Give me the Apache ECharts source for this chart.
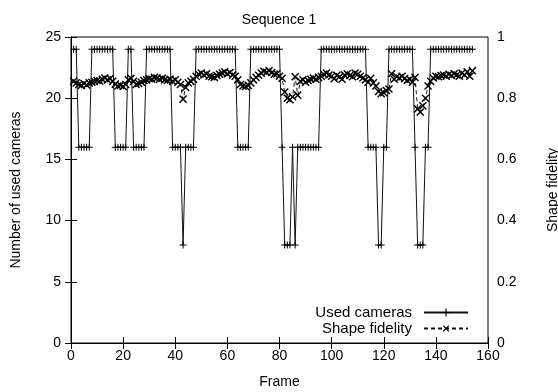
<!DOCTYPE html>
<html>
<head>
<meta charset="utf-8">
<script src="https://cdn.jsdelivr.net/npm/echarts@6/dist/echarts.min.js"></script>
<style>
  html, body { margin: 0; padding: 0; background: #fff; }
  #chart { width: 558px; height: 392px; }
</style>
</head>
<body>
<div id="chart"></div>
<script>
// frames start at 1, one value per frame
const usedCameras = [
  24,24,16,16,16,16,16,24,24,24,
  24,24,24,24,24,24,16,16,16,16,
  16,24,24,16,16,16,16,16,24,24,
  24,24,24,24,24,24,24,24,16,16,
  16,16,8,16,16,16,16,24,24,24,
  24,24,24,24,24,24,24,24,24,24,
  24,24,24,16,16,16,16,16,24,24,
  24,24,24,24,24,24,24,24,24,24,
  16,8,8,8,16,8,16,16,16,16,
  16,16,16,16,16,24,24,24,24,24,
  24,24,24,24,24,24,24,24,24,24,
  24,24,24,16,16,16,16,8,8,16,
  16,24,24,24,24,24,24,24,24,24,
  24,16,8,8,8,16,16,24,24,24,
  24,24,24,24,24,24,24,24,24,24,
  24,24,24,24
];
const shapeFidelity = [
  0.855,0.85,0.845,0.842,0.848,0.843,0.85,0.852,0.855,0.858,
  0.856,0.862,0.866,0.86,0.864,0.855,0.846,0.84,0.842,0.838,
  0.845,0.86,0.865,0.855,0.845,0.848,0.852,0.858,0.86,0.864,
  0.862,0.868,0.866,0.862,0.865,0.86,0.858,0.862,0.855,0.86,
  0.852,0.845,0.797,0.835,0.85,0.855,0.862,0.872,0.878,0.882,
  0.876,0.88,0.872,0.87,0.868,0.874,0.878,0.882,0.886,0.88,
  0.884,0.876,0.872,0.86,0.845,0.84,0.838,0.842,0.85,0.86,
  0.868,0.875,0.882,0.888,0.885,0.89,0.884,0.878,0.88,0.872,
  0.865,0.82,0.8,0.795,0.805,0.87,0.81,0.855,0.86,0.852,
  0.858,0.862,0.866,0.862,0.868,0.872,0.878,0.882,0.876,0.872,
  0.864,0.875,0.87,0.862,0.876,0.88,0.874,0.87,0.882,0.878,
  0.872,0.866,0.86,0.852,0.865,0.85,0.84,0.822,0.815,0.818,
  0.825,0.83,0.88,0.862,0.87,0.866,0.872,0.864,0.858,0.862,
  0.852,0.868,0.765,0.755,0.775,0.8,0.84,0.855,0.866,0.872,
  0.87,0.874,0.876,0.872,0.878,0.874,0.88,0.876,0.872,0.882,
  0.876,0.886,0.872,0.89
];
const xTicks = [0, 20, 40, 60, 80, 100, 120, 140, 160];
const leftTicks = [0, 5, 10, 15, 20, 25];
const rightTicks = [0, 0.2, 0.4, 0.6, 0.8, 1];

const FONT = 'Liberation Sans';
const plusPath = 'path://M3,0h1v3h3v1h-3v3h-1v-3h-3v-1h3z';

const chart = echarts.init(document.getElementById('chart'), null, { renderer: 'canvas' });

const camData = usedCameras.map((v, i) => [i + 1, v]);
const fidData = shapeFidelity.map((v, i) => [i + 1, v]);

const legendStyle = {
  right: 89,
  align: 'right',
  padding: 0,
  itemWidth: 44, itemHeight: 10,
  textStyle: { fontFamily: FONT, fontSize: 15, color: '#000', padding: [0, 7, 0, 0] }
};

const option = {
  animation: false,
  backgroundColor: '#fff',
  textStyle: { fontFamily: FONT, color: '#000' },
  title: {
    text: 'Sequence 1',
    left: 'center',
    top: 8,
    textStyle: { fontFamily: FONT, fontSize: 14, fontWeight: 'normal', color: '#000' }
  },
  grid: {
    left: 71, right: 70, top: 37, bottom: 49,
    containLabel: false, outerBoundsMode: 'none',
    show: true, borderColor: '#000', borderWidth: 1
  },
  legend: [
    Object.assign({ data: ['Used cameras'], top: 305 }, legendStyle),
    Object.assign({ data: ['Shape fidelity'], top: 321 }, legendStyle)
  ],
  xAxis: [
    {
      type: 'value', min: xTicks[0], max: xTicks[xTicks.length - 1], interval: 20,
      name: 'Frame', nameLocation: 'middle', nameGap: 32,
      nameTextStyle: { fontFamily: FONT, fontSize: 14, color: '#000' },
      axisLine: { lineStyle: { color: '#000', width: 1 } },
      axisTick: { inside: true, length: 6, lineStyle: { color: '#000' } },
      axisLabel: { fontFamily: FONT, fontSize: 14, color: '#000', margin: 6 },
      splitLine: { show: false }
    },
    {
      type: 'value', position: 'top', min: xTicks[0], max: xTicks[xTicks.length - 1], interval: 20,
      axisLine: { lineStyle: { color: '#000', width: 1 } },
      axisTick: { inside: true, length: 6, lineStyle: { color: '#000' } },
      axisLabel: { show: false },
      splitLine: { show: false }
    }
  ],
  yAxis: [
    {
      type: 'value', min: leftTicks[0], max: leftTicks[leftTicks.length - 1], interval: 5,
      name: 'Number of used cameras', nameLocation: 'middle', nameGap: 48, nameRotate: 90,
      nameTextStyle: { fontFamily: FONT, fontSize: 14, color: '#000' },
      axisLine: { lineStyle: { color: '#000', width: 1 } },
      axisTick: { inside: true, length: 6, lineStyle: { color: '#000' } },
      axisLabel: { fontFamily: FONT, fontSize: 14, color: '#000', margin: 10 },
      splitLine: { show: false }
    },
    {
      type: 'value', position: 'right', min: rightTicks[0], max: rightTicks[rightTicks.length - 1], interval: 0.2,
      name: 'Shape fidelity', nameLocation: 'middle', nameGap: 58, nameRotate: 90,
      nameTextStyle: { fontFamily: FONT, fontSize: 14, color: '#000' },
      axisLine: { lineStyle: { color: '#000', width: 1 } },
      axisTick: { inside: true, length: 6, lineStyle: { color: '#000' } },
      axisLabel: { fontFamily: FONT, fontSize: 14, color: '#000', margin: 9,
        formatter: v => String(Math.round(v * 10) / 10) },
      splitLine: { show: false }
    }
  ],
  series: [
    {
      name: 'Used cameras',
      type: 'line',
      yAxisIndex: 0,
      data: camData,
      symbol: plusPath,
      symbolSize: 7,
      showAllSymbol: true,
      itemStyle: { color: '#000' },
      lineStyle: { color: '#111', width: 1 }
    },
    {
      name: 'Shape fidelity',
      type: 'line',
      yAxisIndex: 1,
      data: fidData,
      symbol: plusPath,
      symbolRotate: 45,
      symbolSize: 10,
      showAllSymbol: true,
      itemStyle: { color: '#000' },
      lineStyle: { color: '#111', width: 1, type: [4, 3] }
    }
  ]
};

chart.setOption(option);
</script>
</body>
</html>
